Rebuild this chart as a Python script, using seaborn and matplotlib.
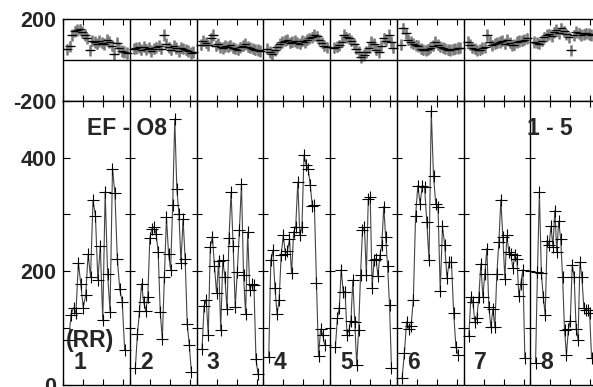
import numpy as np
import pandas as pd
import matplotlib
matplotlib.use('Agg')
import matplotlib.pyplot as plt
import seaborn as sns

# bottom panel: RR values for the 8 blocks
rr1 = [79, 123, 136, 127, 215, 177, 136, 158, 230, 190, 325, 298, 184, 245, 114, 340, 195, 129, 381, 337, 221, 168, 146, 61]
rr2 = [29, 89, 130, 178, 146, 130, 155, 259, 275, 278, 266, 234, 128, 80, 190, 295, 231, 203, 316, 468, 345, 301, 215, 292, 222, 107, 70, 22]
rr3 = [63, 139, 150, 88, 243, 261, 209, 161, 218, 96, 219, 190, 133, 259, 339, 244, 137, 199, 272, 354, 193, 124, 269, 167, 177, 175, 45, 18]
rr4 = [48, 219, 237, 171, 124, 149, 229, 263, 231, 235, 256, 196, 269, 278, 357, 263, 278, 405, 388, 380, 352, 315, 316, 180, 50, 98, 88, 70]
rr5 = [67, 117, 135, 203, 164, 164, 88, 96, 112, 184, 111, 35, 96, 194, 272, 278, 194, 327, 330, 171, 220, 222, 191, 228, 246, 314, 260, 209, 140, 30]
rr6 = [12, 56, 111, 99, 104, 150, 298, 351, 319, 351, 349, 287, 219, 482, 367, 319, 313, 165, 279, 246, 188, 216, 216, 126, 66, 53]
rr7 = [86, 154, 146, 111, 117, 155, 213, 155, 195, 240, 137, 101, 133, 102, 195, 251, 326, 260, 187, 263, 234, 231, 205, 228, 222, 156, 178, 203, 47]
rr8 = [38, 199, 339, 197, 155, 123, 254, 246, 279, 243, 307, 234, 288, 257, 190, 96, 53, 98, 113, 211, 190, 99, 79, 216, 189, 135, 132, 132, 126, 47]

# top panel values
top1 = [52, 67, 121, 140, 146, 150, 137, 121, 105, 47, 95, 88, 80, 92, 85, 78, 98, 88, 70, 30, 84, 60, 45, 40, 35]
top2 = [55, 58, 62, 50, 65, 52, 60, 45, 55, 62, 70, 55, 121, 80, 62, 50, 70, 58, 45, 60, 55, 50, 45, 35, 40]
top3 = [75, 95, 85, 72, 105, 121, 70, 80, 62, 58, 68, 65, 72, 60, 55, 50, 62, 70, 78, 65, 60, 55, 50, 48, 45]
top4 = [55, 40, 30, 47, 62, 80, 88, 95, 100, 85, 90, 92, 85, 80, 95, 88, 100, 105, 110, 121, 115, 100, 85, 70, 62]
top5 = [60, 65, 72, 90, 121, 110, 105, 95, 80, 55, 40, 14, 25, 39, 60, 88, 80, 50, 39, 70, 105, 95, 121, 90, 60]
top6 = [75, 154, 130, 100, 88, 80, 72, 68, 55, 50, 47, 52, 60, 70, 88, 75, 65, 60, 55, 50, 48, 52, 55, 58, 60]
top7 = [88, 75, 60, 55, 47, 50, 58, 62, 121, 90, 72, 80, 85, 88, 95, 80, 100, 85, 72, 75, 88, 92, 95, 100, 105]
top8 = [88, 85, 80, 95, 110, 121, 125, 118, 135, 146, 130, 154, 140, 125, 110, 47, 120, 137, 130, 121, 125, 130, 128, 122, 125]

block_labels = ['1', '2', '3', '4', '5', '6', '7', '8']

sns.set_style('white')
plt.rcParams['font.family'] = ['Liberation Sans', 'DejaVu Sans']
plt.rcParams['font.weight'] = 'bold'

# long tables, x position = block index + place inside the block
rows = []
for k, vals in enumerate([rr1, rr2, rr3, rr4, rr5, rr6, rr7, rr8]):
    xs = k + np.linspace(0.08, 0.92, len(vals))
    rows += [(k, x, v) for x, v in zip(xs, vals)]
df = pd.DataFrame(rows, columns=['block', 'x', 'rr'])

rows = []
for k, vals in enumerate([top1, top2, top3, top4, top5, top6, top7, top8]):
    xs = k + np.linspace(0.06, 0.95, len(vals))
    rows += [(k, x, v) for x, v in zip(xs, vals)]
dtop = pd.DataFrame(rows, columns=['block', 'x', 'val'])

fig = plt.figure(figsize=(5.93, 3.87), dpi=100)
left, width = 63.3 / 593, 533.6 / 593
ax_top = fig.add_axes([left, (387 - 101) / 387, width, 82 / 387])
ax_bot = fig.add_axes([left, (387 - 384.7) / 387, width, 283.7 / 387])

nb = len(block_labels)
xt = [k + f for k in range(nb) for f in (0, 0.3, 0.6, 0.9)] + [nb]

# top panel
ax_top.errorbar(dtop['x'], dtop['val'], yerr=28, fmt='none', ecolor='#7a7a7a', elinewidth=1.8)
ax_top.errorbar(dtop['x'], dtop['val'], xerr=0.055, fmt='none', ecolor='black', elinewidth=0.9)
sns.scatterplot(data=dtop, x='x', y='val', marker='+', color='black', s=45, linewidth=0.9, ax=ax_top)
ax_top.axhline(0, color='black', lw=1)
ax_top.set_ylim(-200, 200)
ax_top.set_yticks([-200, 200])
ax_top.set_yticklabels(['-200', '200'])

# bottom panel
sns.lineplot(data=df, x='x', y='rr', units='block', estimator=None, color='#444444',
             linewidth=0.8, marker='+', markersize=9, markeredgecolor='black',
             markeredgewidth=0.8, legend=False, ax=ax_bot)
ax_bot.set_ylim(0, 500)
ax_bot.set_yticks([0, 100, 200, 300, 400, 500])
ax_bot.set_yticklabels(['0', '', '200', '', '400', ''])
for k in range(1, nb):
    ax_bot.hlines([100, 200, 300, 400], k - 0.075, k + 0.075, color='black', lw=0.8)

ax_bot.text(0.355, 440, 'EF - O8', fontsize=16.5, fontweight='bold')
ax_bot.text(6.95, 440, '1 - 5', fontsize=16.5, fontweight='bold')
ax_bot.text(0.04, 66, '(RR)', fontsize=16.5, fontweight='bold')
for k, lab in enumerate(block_labels):
    ax_bot.text(k + 0.15, 28, lab, fontsize=16.5, fontweight='bold')

for ax in (ax_top, ax_bot):
    ax.set_xlim(0, nb)
    ax.set_xticks(xt)
    ax.set_xticklabels([])
    ax.set_xlabel('')
    ax.set_ylabel('')
    for k in range(1, nb):
        ax.axvline(k, color='black', lw=1)
    for s in ax.spines.values():
        s.set_color('black')
        s.set_linewidth(1)
    ax.tick_params(axis='x', direction='in', top=True, bottom=True, length=4, width=0.8, color='black')
    ax.tick_params(axis='y', direction='in', left=True, length=5, width=0.8, color='black',
                   labelsize=15.5, pad=5)
    for t in ax.get_yticklabels():
        t.set_fontweight('bold')

fig.savefig('out.png', dpi=100)
